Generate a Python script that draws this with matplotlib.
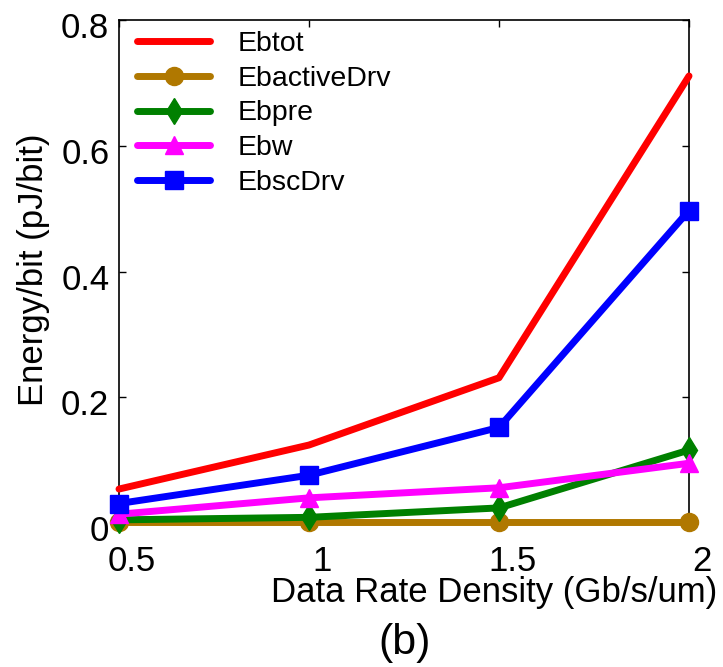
import numpy as np
import matplotlib.pyplot as plt
from matplotlib.transforms import ScaledTranslation

plt.rcParams['font.family'] = ['Liberation Sans', 'DejaVu Sans']

# data
rate = [0.5, 1.0, 1.5, 2.0]
ebtot = [0.054, 0.124, 0.231, 0.711]
eb_active_drv = [0.001, 0.001, 0.001, 0.001]
ebpre = [0.005, 0.009, 0.024, 0.116]
ebw = [0.014, 0.040, 0.056, 0.095]
eb_sc_drv = [0.031, 0.076, 0.152, 0.497]

names = ['Ebtot', 'EbactiveDrv', 'Ebpre', 'Ebw', 'EbscDrv']
colors = ['#ff0000', '#b07800', '#008000', '#ff00ff', '#0000ff']
markers = [None, 'o', 'd', '^', 's']

fig = plt.figure(figsize=(7.23, 6.67), dpi=100)
ax = fig.add_axes([0.1646, 0.2159, 0.7884, 0.7541])

series = [ebtot, eb_active_drv, ebpre, ebw, eb_sc_drv]
for vals, name, c, m in zip(series, names, colors, markers):
    ax.plot(rate, vals, color=c, lw=5, marker=m, ms=13, mec=c, mfc=c,
            label=name, solid_capstyle='round', clip_on=False, zorder=3)

ax.set_xlim(0.5, 2.0)
ax.set_ylim(0, 0.8)
ax.set_xticks([0.5, 1, 1.5, 2])
ax.set_xticklabels(['0.5', '1', '1.5', '2'])
ax.set_yticks([0, 0.2, 0.4, 0.6, 0.8])
ax.set_yticklabels(['0', '0.2', '0.4', '0.6', '0.8'])
ax.tick_params(direction='in', length=5, width=1, labelsize=25,
               top=True, right=True, pad=7)
ax.tick_params(axis='x', pad=16)

# matlab-style label shift
for lbl in ax.get_xticklabels():
    lbl.set_transform(lbl.get_transform() + ScaledTranslation(0.13, 0, fig.dpi_scale_trans))
for lbl in ax.get_yticklabels():
    lbl.set_transform(lbl.get_transform() + ScaledTranslation(0, -0.05, fig.dpi_scale_trans))

for s in ax.spines.values():
    s.set_linewidth(1.2)

ax.set_xlabel('Data Rate Density (Gb/s/um)', fontsize=25)
ax.xaxis.set_label_coords(0.658, -0.105)
ax.set_ylabel('Energy/bit (pJ/bit)', fontsize=25)
ax.yaxis.set_label_coords(-0.121, 0.503)

fig.text(0.56, 0.036, '(b)', fontsize=31, ha='center', va='center')

ax.legend(loc='upper left', frameon=False, fontsize=20.5, handlelength=2.56,
          handletextpad=0.95, labelspacing=0.3, borderaxespad=0,
          bbox_to_anchor=(0.012, 1.0))

fig.savefig('out.png', dpi=100)
